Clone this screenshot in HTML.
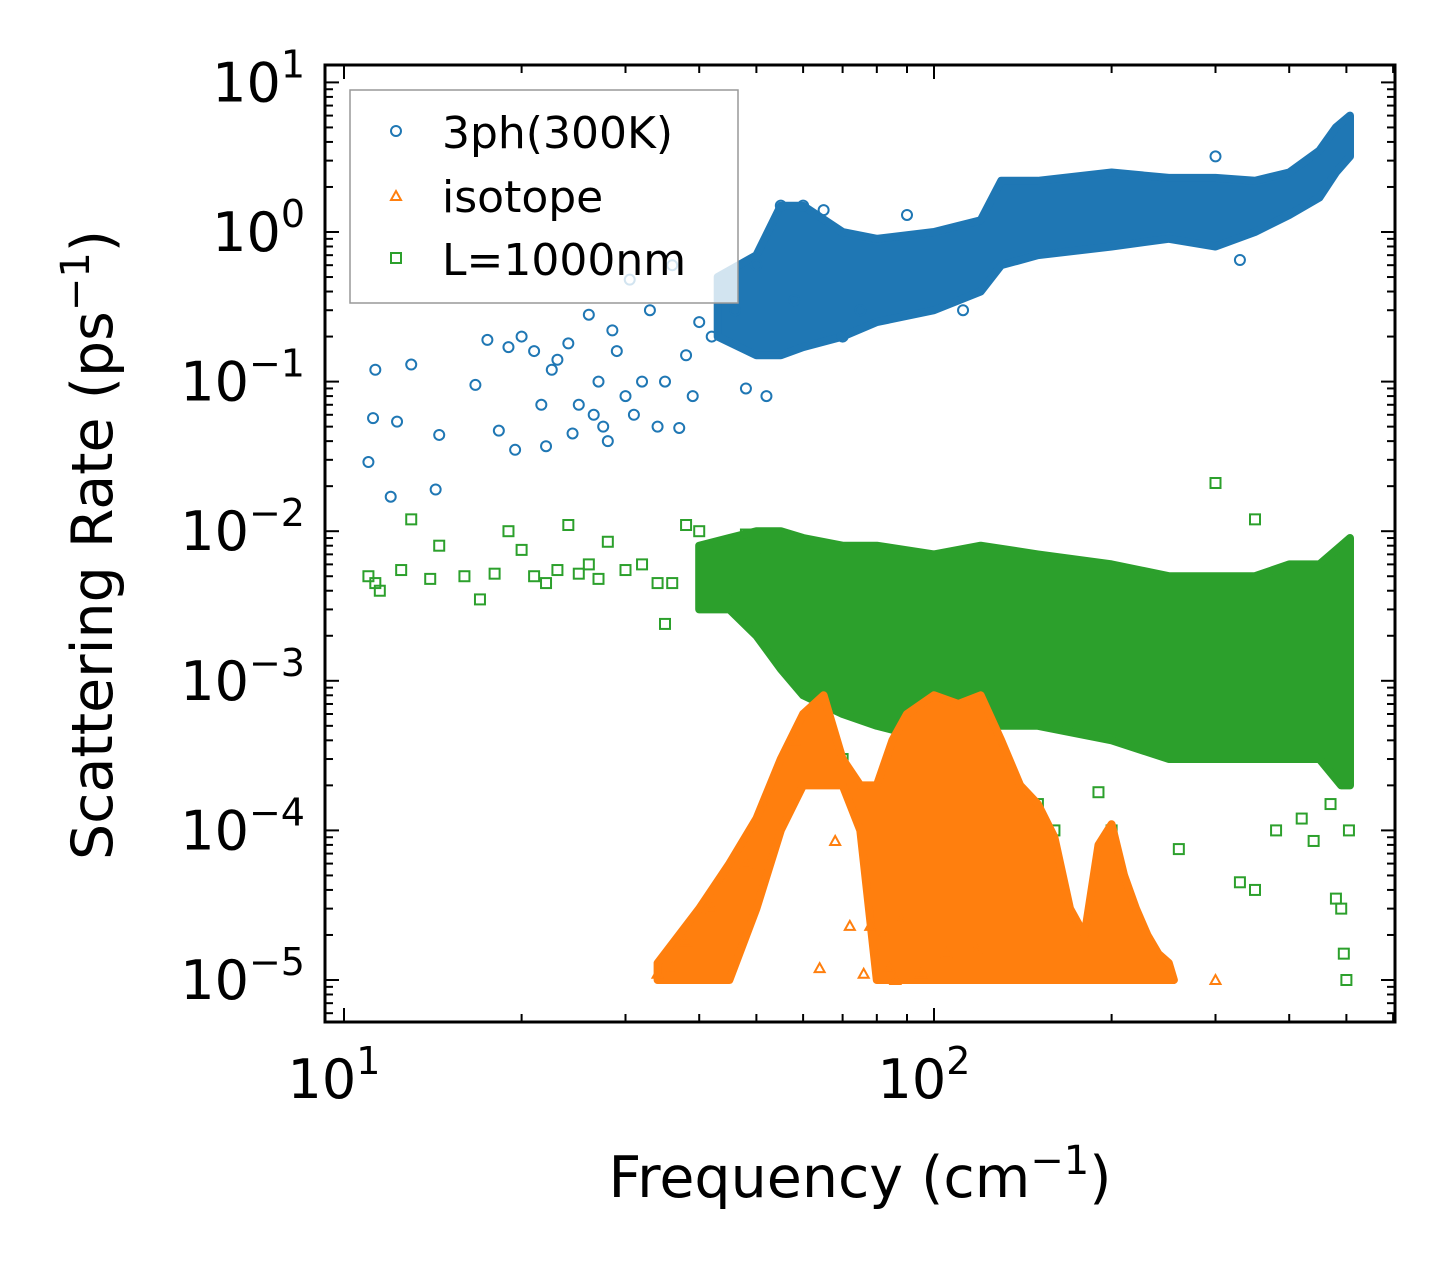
<!DOCTYPE html>
<html><head><meta charset="utf-8"><style>
html,body{margin:0;padding:0;background:#fff}
svg{display:block;font-family:"DejaVu Sans","Liberation Sans",sans-serif}
</style></head><body>
<svg id="chart" width="1455" height="1271" viewBox="0 0 1455 1271" xmlns="http://www.w3.org/2000/svg">
<rect width="1455" height="1271" fill="#fff"/>
<g id="plot"></g>
<g id="axes"></g>
<text x="860" y="1197" font-size="57" text-anchor="middle">Frequency (cm<tspan dy="-23" font-size="40">−1</tspan><tspan dy="23">)</tspan></text>
<text transform="translate(112,545) rotate(-90)" font-size="57" text-anchor="middle">Scattering Rate (ps<tspan dy="-23" font-size="40">−1</tspan><tspan dy="23">)</tspan></text>
<g>
<rect x="350" y="90" width="388" height="213" fill="#fff" fill-opacity="0.8" stroke="#999" stroke-width="1.5"/>
<g><circle cx="396" cy="131" r="5" fill="none" stroke="#1f77b4" stroke-width="2"/><text x="442" y="148" font-size="44">3ph(300K)</text></g>
<g><path d="M391,200 L401,200 L396,191 Z" fill="none" stroke="#ff7f0e" stroke-width="2"/><text x="442" y="212" font-size="44">isotope</text></g>
<g><rect x="391" y="253" width="10" height="10" fill="none" stroke="#2ca02c" stroke-width="2"/><text x="442" y="275" font-size="44">L=1000nm</text></g>
</g>
</svg>
<script>
const NS="http://www.w3.org/2000/svg";
const X0=344, XD=590, Y0=232, YD=149.6;
const L=325,R=1395,T=65,B=1022;
function xs(f){return X0+XD*(Math.log10(f)-1);}
function ys(v){return Y0-YD*Math.log10(v);}

const phF=[43,50,55,60,70,80,100,120,130,150,200,250,300,350,400,450,480,507];
const phHi=[0.5,0.7,1.5,1.5,1.0,0.9,1.0,1.2,2.2,2.2,2.5,2.3,2.3,2.2,2.5,3.5,5,6];
const phLo=[0.2,0.15,0.15,0.17,0.2,0.25,0.3,0.4,0.6,0.7,0.8,0.9,0.8,1.0,1.3,1.7,2.5,3.2];
const phPtsF=[11,11.2,11.3,12,12.3,13,14.3,14.5,16.7,17.5,18.3,19,19.5,20,21,21.6,22,22.5,23,24,24.4,25,26,26.5,27,27.5,28,28.5,29,30,30.5,31,32,33,34,35,36,37,38,39,40,42,44,46,48,50,52,55,58,60,65,70,75,90,112,300,330];
const phPtsV=[0.029,0.057,0.12,0.017,0.054,0.13,0.019,0.044,0.095,0.19,0.047,0.17,0.035,0.2,0.16,0.07,0.037,0.12,0.14,0.18,0.045,0.07,0.28,0.06,0.1,0.05,0.04,0.22,0.16,0.08,0.48,0.06,0.1,0.3,0.05,0.1,0.6,0.049,0.15,0.08,0.25,0.2,0.4,0.3,0.09,0.6,0.08,1.5,0.35,1.5,1.4,0.2,0.3,1.3,0.3,3.2,0.65];

const bdF=[40,45,50,55,60,70,80,100,120,150,200,250,300,350,400,450,490,507];
const bdHi=[0.008,0.009,0.01,0.01,0.009,0.008,0.008,0.007,0.008,0.007,0.006,0.005,0.005,0.005,0.006,0.006,0.008,0.009];
const bdLo=[0.003,0.003,0.002,0.0012,0.0008,0.0006,0.0005,0.0004,0.0005,0.0005,0.0004,0.0003,0.0003,0.0003,0.0003,0.0003,0.0002,0.0002];
const bdPtsF=[11,11.3,11.5,12.5,13,14,14.5,16,17,18,19,20,21,22,23,24,25,26,27,28,30,32,34,35,36,38,40,43,46,48,50,52,70,85,100,110,125,150,160,190,200,260,300,330,350,380,420,440,470,480,490,495,500,505,350,490];
const bdPtsV=[0.005,0.0045,0.004,0.0055,0.012,0.0048,0.008,0.005,0.0035,0.0052,0.01,0.0075,0.005,0.0045,0.0055,0.011,0.0052,0.006,0.0048,0.0085,0.0055,0.006,0.0045,0.0024,0.0045,0.011,0.01,0.006,0.0035,0.0095,0.005,0.0065,0.0003,0.0002,0.00025,0.00003,0.00025,0.00015,0.0001,0.00018,0.0001,0.000075,0.021,0.000045,0.00004,0.0001,0.00012,0.000085,0.00015,0.000035,0.00003,0.000015,0.00001,0.0001,0.012,0.005];

const isF=[34,40,45,50,55,60,65,70,75,80,85,90,100,110,120,130,140,150,160,170,180,190,200,210,220,230,240,250,255];
const isHi=[1.3e-5,3e-5,6e-5,1.2e-4,3e-4,6e-4,8e-4,3e-4,2e-4,2e-4,4e-4,6e-4,8e-4,7e-4,8e-4,4e-4,2e-4,1.5e-4,9e-5,3e-5,2e-5,8e-5,1.1e-4,5e-5,3e-5,2e-5,1.5e-5,1.3e-5,1e-5];
const isLo=[1e-5,1e-5,1e-5,3e-5,1e-4,2e-4,2e-4,2e-4,1e-4,1e-5,1e-5,1e-5,1e-5,1e-5,1e-5,1e-5,1e-5,1e-5,1e-5,1e-5,1e-5,1e-5,1e-5,1e-5,1e-5,1e-5,1e-5,1e-5,1e-5];
const isPtsF=[34,36,38,42,48,52,58,64,68,72,76,78,82,84,86,88,95,105,118,300];
const isPtsV=[1.1e-5,1.2e-5,1.8e-5,3e-5,6e-5,1.5e-4,4e-4,1.2e-5,8.5e-5,2.3e-5,1.1e-5,2.3e-5,2e-5,1.2e-5,1e-5,2.5e-5,1.1e-5,1.5e-5,1.6e-5,1e-5];

const plot=document.getElementById('plot');
function band(F,Hi,Lo,color,name){
  let d='';
  F.forEach((f,i)=>{d+=(i?'L':'M')+xs(f).toFixed(1)+','+ys(Hi[i]).toFixed(1);});
  for(let i=F.length-1;i>=0;i--){d+='L'+xs(F[i]).toFixed(1)+','+ys(Lo[i]).toFixed(1);}
  const p=document.createElementNS(NS,'path');
  p.setAttribute('d',d+'Z');p.setAttribute('fill',color);p.setAttribute('stroke',color);p.setAttribute('stroke-width','8');p.setAttribute('stroke-linejoin','round');
  
  
  plot.appendChild(p);
}
function pts(F,V,color,shape,name){
  const g=document.createElementNS(NS,'g');
  
  
  F.forEach((f,i)=>{
    const x=xs(f),y=ys(V[i]);let e;
    if(shape==='c'){e=document.createElementNS(NS,'circle');e.setAttribute('cx',x);e.setAttribute('cy',y);e.setAttribute('r',5);}
    else if(shape==='s'){e=document.createElementNS(NS,'rect');e.setAttribute('x',x-5);e.setAttribute('y',y-5);e.setAttribute('width',10);e.setAttribute('height',10);}
    else {e=document.createElementNS(NS,'path');e.setAttribute('d',`M${x-5},${y+4}L${x+5},${y+4}L${x},${y-5}Z`);}
    e.setAttribute('fill','none');e.setAttribute('stroke',color);e.setAttribute('stroke-width',2);
    g.appendChild(e);
  });
  plot.appendChild(g);
}
band(bdF,bdHi,bdLo,'#2ca02c','boundary-band');
pts(bdPtsF,bdPtsV,'#2ca02c','s','boundary-points');
band(isF,isHi,isLo,'#ff7f0e','isotope-band');
pts(isPtsF,isPtsV,'#ff7f0e','t','isotope-points');
band(phF,phHi,phLo,'#1f77b4','3ph-band');
pts(phPtsF,phPtsV,'#1f77b4','c','3ph-points');

const ax=document.getElementById('axes');
function line(x1,y1,x2,y2,w){const l=document.createElementNS(NS,'line');l.setAttribute('x1',x1);l.setAttribute('y1',y1);l.setAttribute('x2',x2);l.setAttribute('y2',y2);l.setAttribute('stroke','#000');l.setAttribute('stroke-width',w);ax.appendChild(l);}
const fr=document.createElementNS(NS,'rect');
fr.setAttribute('x',L);fr.setAttribute('y',T);fr.setAttribute('width',R-L);fr.setAttribute('height',B-T);fr.setAttribute('fill','none');fr.setAttribute('stroke','#000');fr.setAttribute('stroke-width',3);


ax.appendChild(fr);
function lbl(x,y,exp,anchor,name){
  const t=document.createElementNS(NS,'text');t.setAttribute('x',x);t.setAttribute('y',y);t.setAttribute('font-size','54');t.setAttribute('text-anchor',anchor);
  t.innerHTML='10<tspan dy="-24" font-size="38">'+exp+'</tspan>';
  
  
  ax.appendChild(t);
}
const xExps=[1,2];
for(let e=0;e<=2;e++){for(let m=1;m<10;m++){const f=m*Math.pow(10,e);const x=xs(f);if(x<L||x>R)continue;
  const len=m===1?14:8;line(x,B,x,B-len,2);line(x,T,x,T+len,2);}}
xExps.forEach(e=>lbl(xs(Math.pow(10,e))-10,1098,String(e),'middle','x-tick-label'));
const yExps=[1,0,-1,-2,-3,-4,-5];
for(let e=-6;e<=1;e++){for(let m=1;m<10;m++){const v=m*Math.pow(10,e);const y=ys(v);if(y<T||y>B)continue;
  const len=m===1?14:8;line(L,y,L+len,y,2);line(R,y,R-len,y,2);}}
yExps.forEach(e=>lbl(305,ys(Math.pow(10,e))+19,e<0?'−'+(-e):String(e),'end','y-tick-label'));
</script>
</body></html>
